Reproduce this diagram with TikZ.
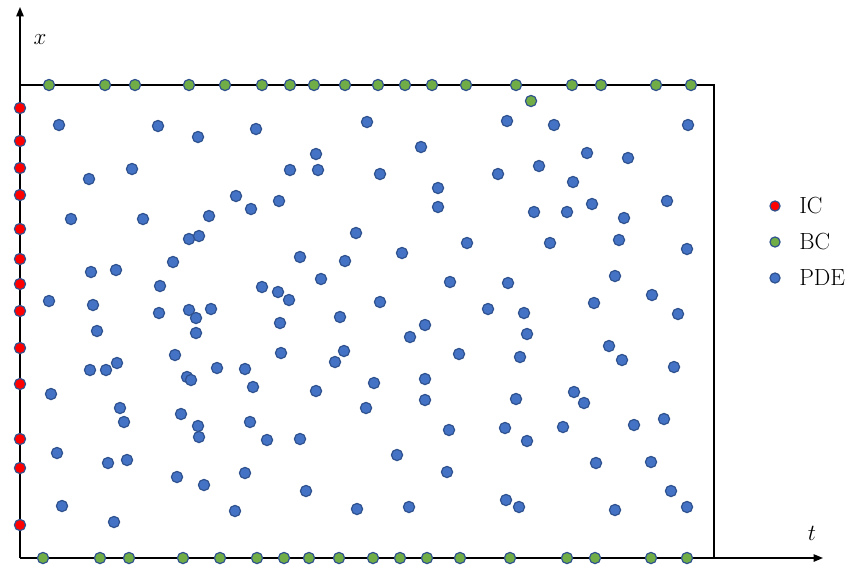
\documentclass[tikz,border=0pt]{standalone}
\usetikzlibrary{arrows.meta}
\definecolor{icred}{HTML}{FF0000}
\definecolor{bcgreen}{HTML}{70AD47}
\definecolor{pdeblue}{HTML}{4472C4}
\definecolor{dotline}{HTML}{2F528F}
\tikzset{
  dotbase/.style={circle,draw=dotline,line width=0.9pt,minimum size=8.4pt,inner sep=0pt},
  icdot/.style={dotbase,fill=icred},
  bcdot/.style={dotbase,fill=bcgreen},
  pdedot/.style={dotbase,fill=pdeblue},
  legdot/.style={minimum size=7.6pt},
  axisline/.style={line width=1.1pt,-{Triangle[length=7pt,width=5.5pt]}},
  boxline/.style={line width=0.9pt},
  legtext/.style={anchor=west,inner sep=0pt,font=\fontsize{17.5}{20}\selectfont},
  axlabel/.style={inner sep=0pt,font=\fontsize{19}{22}\selectfont}
}
\begin{document}
\begin{tikzpicture}[x=0.75pt,y=-0.75pt]
\useasboundingbox (0,0) rectangle (855,582);
% axes and box
\coordinate (O) at (20,558);
\coordinate (Xtop) at (20,7);
\coordinate (Tend) at (823,558);
\coordinate (TL) at (20,85);
\coordinate (TR) at (714,85);
\coordinate (BR) at (714,558);
\draw[boxline] (TL) -- (TR) -- (BR);
\draw[axisline] (O) -- (Xtop);
\draw[axisline] (O) -- (Tend);
\node[axlabel] (xlab) at (40,40) {$x$};
\node[axlabel] (tlab) at (812,533) {$t$};
% boundary condition points, top
\foreach \xx [count=\i] in {49,105,135,189,225,262,290,314,345,378,405,432,466,516,572,601,656,691}
  \node[bcdot] (bct\i) at (\xx,85) {};
\node[bcdot] (bcx) at (531,101) {};
% boundary condition points, bottom
\foreach \xx [count=\i] in {43,100,129,183,220,257,284,309,339,373,400,427,460,510,567,595,651,687}
  \node[bcdot] (bcb\i) at (\xx,558) {};
% PDE collocation points
\foreach \p/\q [count=\i] in {59/125,158/126,198/137,256/129,367/122,507/121,554/125,688/125,
421/147,316/154,587/153,628/158,
89/179,132/169,290/170,318/170,380/174,498/174,539/166,573/182,
438/188,236/196,251/209,279/201,209/216,71/219,143/219,438/207,534/212,567/212,592/204,667/201,624/218,
356/233,189/239,199/236,467/243,550/243,619/240,687/249,
300/257,173/262,345/261,402/253,91/272,116/270,
321/279,450/282,508/283,615/276,
160/286,262/287,278/292,289/300,49/301,93/305,380/302,594/303,652/295,
159/313,189/310,211/309,196/318,280/323,340/317,488/309,524/313,678/314,
97/331,196/333,425/325,410/337,527/334,
175/355,281/353,344/351,335/362,459/354,520/357,609/346,622/360,
90/370,106/370,117/363,217/368,245/369,674/367,
187/377,191/380,374/383,425/379,253/387,
51/394,316/391,574/392,584/403,516/399,425/400,
120/408,181/414,366/408,664/419,
124/422,250/422,198/426,634/425,449/430,505/428,563/427,
199/437,267/440,300/439,527/441,
57/453,397/455,108/463,127/460,596/463,651/462,
245/473,447/472,
177/477,204/485,306/491,671/491,506/500,
62/506,235/511,357/509,409/507,519/507,615/510,687/507,
114/522}
  \node[pdedot] (pde\i) at (\p,\q) {};
% initial condition points
\foreach \yy [count=\i] in {108,141,168,195,229,259,284,311,348,384,439,468,525}
  \node[icdot] (ic\i) at (20,\yy) {};
% legend
\node[icdot,legdot] (legic) at (775,206) {};
\node[bcdot,legdot] (legbc) at (775,242) {};
\node[pdedot,legdot] (legpde) at (775,278) {};
\node[legtext] (legictext) at (799,206) {IC};
\node[legtext] (legbctext) at (799,242) {BC};
\node[legtext] (legpdetext) at (799,278) {PDE};
\end{tikzpicture}
\end{document}
